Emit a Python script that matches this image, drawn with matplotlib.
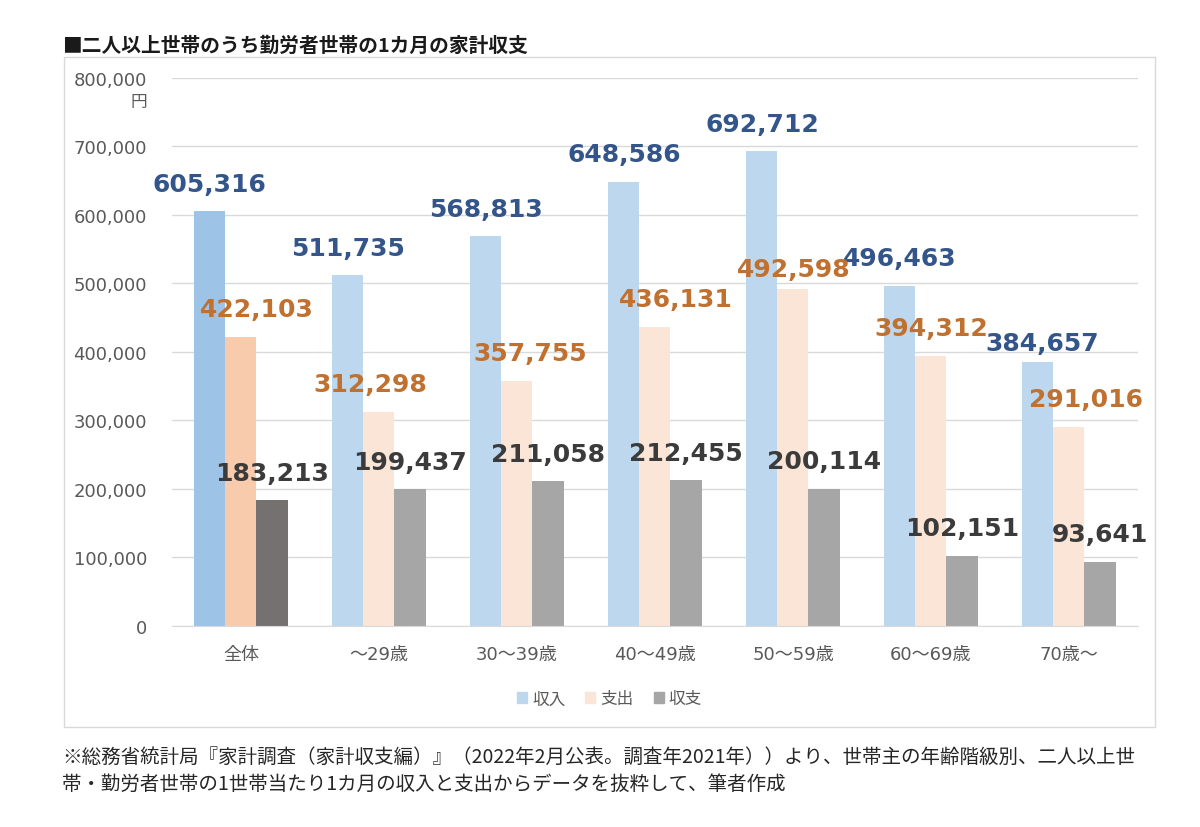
import numpy as np
import matplotlib.pyplot as plt
from matplotlib.patches import Rectangle

plt.rcParams['font.family'] = ['DejaVu Sans', 'Noto Sans CJK JP']

categories = ['全体', '～29歳', '30～39歳', '40～49歳', '50～59歳', '60～69歳', '70歳～']
income = [605316, 511735, 568813, 648586, 692712, 496463, 384657]
expense = [422103, 312298, 357755, 436131, 492598, 394312, 291016]
balance = [183213, 199437, 211058, 212455, 200114, 102151, 93641]
series_names = ['収入', '支出', '収支']

title = '■二人以上世帯のうち勤労者世帯の1カ月の家計収支'
note = ('※総務省統計局『家計調査（家計収支編）』（2022年2月公表。調査年2021年））より、世帯主の年齢階級別、二人以上世\n'
        '帯・勤労者世帯の1世帯当たり1カ月の収入と支出からデータを抜粋して、筆者作成')

# first group is darker than the rest
inc_col = ['#9DC3E6'] + ['#BDD7EE'] * 6
exp_col = ['#F8CBAD'] + ['#FBE5D6'] * 6
bal_col = ['#767171'] + ['#A6A6A6'] * 6
lab_col = ['#34558A', '#C0702F', '#3B3B3B']

# hand-moved data labels (pixel nudges, series index, category index)
nudge = {(1, 0): (16, 0), (1, 1): (-9, 0), (1, 2): (13, 0), (1, 3): (21, 0),
         (1, 4): (1, -8), (1, 6): (17, 0), (0, 6): (4, -8)}

fig = plt.figure(figsize=(12, 8.28), dpi=100)
ax = fig.add_axes([0.1433, 0.2428, 0.805, 0.6618])

x = np.arange(len(categories))
w = 0.225
groups = [(income, inc_col, -0.225), (expense, exp_col, 0.0), (balance, bal_col, 0.225)]
for i, (vals, cols, off) in enumerate(groups):
    ax.bar(x + off, vals, w, color=cols, zorder=2)
    for j, (xi, v) in enumerate(zip(x, vals)):
        dx, dy = nudge.get((i, j), (0, 0))
        ax.annotate(f'{v:,}', (xi + off, v), xytext=(dx * 0.72, 20 + dy * 0.72),
                    textcoords='offset points', ha='center', va='center',
                    fontsize=18, fontweight='bold', color=lab_col[i], zorder=3)

ax.set_xlim(-0.5, len(categories) - 0.5)
ax.set_ylim(0, 800000)
ax.set_yticks(np.arange(0, 800001, 100000))
ax.set_yticklabels([f'{t:,}' for t in range(0, 800001, 100000)])
ax.set_xticks(x)
ax.set_xticklabels(categories, fontsize=13)
ax.tick_params(axis='both', length=0, colors='#595959', labelsize=13)
ax.tick_params(axis='x', pad=14)
ax.tick_params(axis='y', pad=18)
ax.yaxis.grid(True, color='#D9D9D9', lw=1, zorder=0)
for s in ['top', 'right', 'left']:
    ax.spines[s].set_visible(False)
ax.spines['bottom'].set_color('#D9D9D9')

fig.text(147 / 1200, 1 - 102 / 828, '円', ha='right', va='center', fontsize=12,
         color='#595959', family=['Noto Sans CJK JP'])

handles = [Rectangle((0, 0), 1, 1, color=c) for c in ['#BDD7EE', '#FBE5D6', '#A6A6A6']]
fig.legend(handles, series_names, loc='center', bbox_to_anchor=(0.508, 1 - 700 / 828),
           ncol=3, frameon=False, handlelength=0.6, handleheight=0.6, handletextpad=0.3,
           columnspacing=1.2, prop={'family': ['Noto Sans CJK JP'], 'size': 12},
           labelcolor='#595959')

# outer frame around chart area
fig.patches.append(Rectangle((64 / 1200, 1 - 728 / 828), 1091 / 1200, 670 / 828,
                             transform=fig.transFigure, fill=False,
                             edgecolor='#D9D9D9', lw=1))

fig.text(62 / 1200, 1 - 46 / 828, title, ha='left', va='center', fontsize=14.2,
         fontweight='bold', family=['Noto Sans CJK JP'], color='#1a1a1a')
fig.text(62 / 1200, 1 - 771 / 828, note, ha='left', va='center', fontsize=14,
         family=['Noto Sans CJK JP'], color='#262626', linespacing=1.4)

fig.savefig('out.png', dpi=100, facecolor='white')
